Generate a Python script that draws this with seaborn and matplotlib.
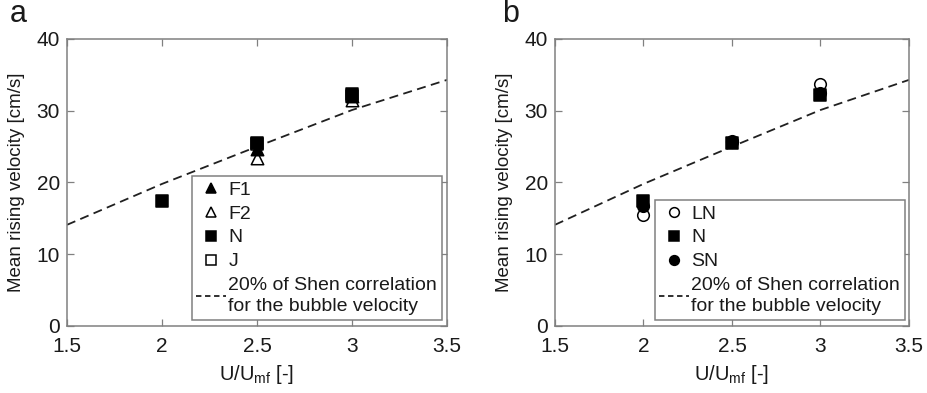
import matplotlib
matplotlib.use("Agg")
import matplotlib.pyplot as plt
from matplotlib.lines import Line2D
import seaborn as sns
import pandas as pd

# Shen correlation (20%) reference curve
shen_x = [1.5, 2.0, 2.5, 3.0, 3.5]
shen_y = [14.1, 19.8, 25.0, 30.1, 34.3]

# Panel a: different powders
f1_x = [2.5, 3.0]
f1_y = [24.6, 32.0]
f2_x = [2.5, 3.0]
f2_y = [23.4, 31.5]
n_a_x = [2.0, 2.5, 3.0]
n_a_y = [17.4, 25.5, 32.3]
j_x = [2.5, 3.0]
j_y = [25.4, 32.1]

# Panel b: different bed heights
ln_x = [2.0, 2.5, 3.0]
ln_y = [15.4, 25.6, 33.7]
n_b_x = [2.0, 2.5, 3.0]
n_b_y = [17.4, 25.5, 32.2]
sn_x = [2.0, 2.5, 3.0]
sn_y = [16.7, 25.8, 32.5]

shen_label = "20% of Shen correlation\nfor the bubble velocity"
x_ticks = [1.5, 2, 2.5, 3, 3.5]
x_ticklabels = ["1.5", "2", "2.5", "3", "3.5"]
y_ticks = [0, 10, 20, 30, 40]

sns.set_theme(style="white")
plt.rcParams["font.family"] = ["Liberation Sans", "DejaVu Sans"]
plt.rcParams["mathtext.fontset"] = "custom"
plt.rcParams["mathtext.rm"] = "Liberation Sans"
plt.rcParams["mathtext.it"] = "Liberation Sans"

GRAY = "#808080"
TXT = "#1a1a1a"

fig = plt.figure(figsize=(9.28, 3.93), dpi=100)
ax_a = fig.add_axes([0.0722, 0.1705, 0.4095, 0.7303])
ax_b = fig.add_axes([0.598, 0.1705, 0.3815, 0.7303])


def pts(ax, xs, ys, marker, filled, label, size, z):
    df = pd.DataFrame({"x": xs, "y": ys})
    sns.scatterplot(data=df, x="x", y="y", ax=ax, marker=marker,
                    color="black" if filled else "white",
                    edgecolor="black", linewidth=1.1, s=size,
                    label=label, zorder=z, legend=False)


def shen(ax):
    df = pd.DataFrame({"x": shen_x, "y": shen_y})
    sns.lineplot(data=df, x="x", y="y", ax=ax, color="#202020",
                 linewidth=1.3, linestyle=(0, (5, 3)), zorder=2)


def style(ax, letter, ylab_x):
    ax.set_xlim(1.5, 3.5)
    ax.set_ylim(0, 40)
    ax.set_xticks(x_ticks)
    ax.set_xticklabels(x_ticklabels)
    ax.set_yticks(y_ticks)
    ax.tick_params(direction="in", length=5, width=0.9, color=GRAY,
                   labelsize=15, labelcolor=TXT, top=True, right=True,
                   bottom=True, left=True, pad=5)
    ax.tick_params(axis="x", pad=8)
    for sp in ax.spines.values():
        sp.set_color(GRAY)
        sp.set_linewidth(1.1)
    ax.set_xlabel("U/U$_{mf}$ [-]", fontsize=14.5, color=TXT)
    ax.set_ylabel("Mean rising velocity [cm/s]", fontsize=13.5, color=TXT)
    ax.xaxis.set_label_coords(0.5, -0.13)
    ax.yaxis.set_label_coords(ylab_x, 0.5)
    ax.text(-0.15, 1.14, letter, transform=ax.transAxes, fontsize=22,
            color=TXT, ha="left", va="top")


# Panel a
shen(ax_a)
pts(ax_a, j_x, j_y, "s", False, "J", 64, 3)
pts(ax_a, f2_x, f2_y, "^", False, "F2", 80, 4)
pts(ax_a, f1_x, f1_y, "^", True, "F1", 80, 5)
pts(ax_a, n_a_x, n_a_y, "s", True, "N", 64, 6)
style(ax_a, "a", -0.11)

# Panel b
shen(ax_b)
pts(ax_b, ln_x, ln_y, "o", False, "LN", 70, 3)
pts(ax_b, n_b_x, n_b_y, "s", True, "N", 64, 4)
pts(ax_b, sn_x, sn_y, "o", True, "SN", 70, 5)
style(ax_b, "b", -0.118)


def mk(marker, filled):
    return Line2D([], [], linestyle="none", marker=marker, markersize=7,
                  markerfacecolor="black" if filled else "white",
                  markeredgecolor="black", markeredgewidth=1.1)


dash = Line2D([], [], color="#202020", linewidth=1.3, linestyle=(0, (3, 2)))

leg_kw = dict(loc="lower right", frameon=True, fancybox=False,
              fontsize=14, handlelength=1.5, handletextpad=0.15,
              labelspacing=0.32, borderpad=0.25, borderaxespad=0,
              edgecolor=GRAY, framealpha=1)

la = ax_a.legend([mk("^", True), mk("^", False), mk("s", True),
                  mk("s", False), dash],
                 ["F1", "F2", "N", "J", shen_label],
                 bbox_to_anchor=(0.987, 0.021), **leg_kw)
lb = ax_b.legend([mk("o", False), mk("s", True), mk("o", True), dash],
                 ["LN", "N", "SN", shen_label],
                 bbox_to_anchor=(0.989, 0.021), **leg_kw)
for lg in (la, lb):
    lg.get_frame().set_linewidth(1.1)
    for t in lg.get_texts():
        t.set_color(TXT)
        t.set_linespacing(1.35)

fig.savefig("out.png", dpi=100)
